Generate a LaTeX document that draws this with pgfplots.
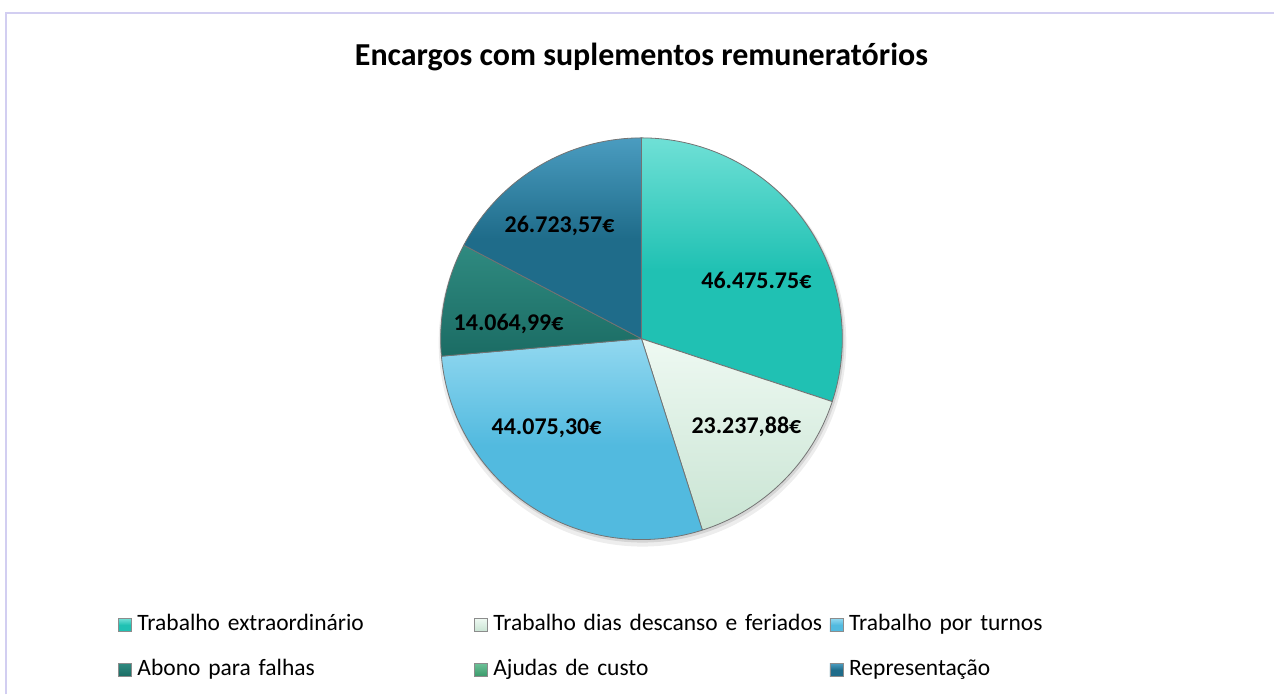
\documentclass[border=0pt]{standalone}
\usepackage{fontspec}
\setmainfont{Carlito}
\usepackage{pgfplots}
\usepackage{pgfplotstable}
\pgfplotsset{compat=1.18}

\definecolor{cA}{HTML}{20C1B3}\definecolor{cAl}{HTML}{6FE0D6}
\definecolor{cB}{HTML}{C9E4D3}\definecolor{cBl}{HTML}{EEF9F2}
\definecolor{cC}{HTML}{52BADF}\definecolor{cCl}{HTML}{92D8F0}
\definecolor{cD}{HTML}{1B6C64}\definecolor{cDl}{HTML}{2F8A80}
\definecolor{cE}{HTML}{3A9A6A}\definecolor{cEl}{HTML}{6CC097}
\definecolor{cF}{HTML}{1F6C8A}\definecolor{cFl}{HTML}{4A9CC0}
\definecolor{frame}{HTML}{D2CEF1}

\tikzset{
  pie0/.style={top color=cAl, bottom color=cA, middle color=cA},
  pie1/.style={top color=cBl, bottom color=cB},
  pie2/.style={top color=cCl, bottom color=cC, middle color=cC},
  pie3/.style={top color=cDl, bottom color=cD},
  pie4/.style={top color=cEl, bottom color=cE},
  pie5/.style={top color=cFl, bottom color=cF, middle color=cF},
}

% values of the slices (clockwise from 12 o'clock)
\pgfplotstableread[col sep=comma]{
value
46475.75
23237.88
44075.30
14064.99
0
26723.57
}\piedata

\def\total{0}
\pgfplotsforeachungrouped \i in {0,...,5}{%
  \pgfplotstablegetelem{\i}{value}\of\piedata
  \xdef\total{\fpeval{\total+\pgfplotsretval}}%
}
\def\cum{0}
\pgfplotsforeachungrouped \i in {0,...,5}{%
  \pgfplotstablegetelem{\i}{value}\of\piedata
  \expandafter\xdef\csname sa\i\endcsname{\fpeval{round(90-360*\cum/\total,4)}}%
  \xdef\cum{\fpeval{\cum+\pgfplotsretval}}%
  \expandafter\xdef\csname ea\i\endcsname{\fpeval{round(90-360*\cum/\total,4)}}%
  \expandafter\xdef\csname va\i\endcsname{\pgfplotsretval}%
}

\begin{document}
\begin{tikzpicture}
\begin{axis}[
  scale only axis, width=637.5pt, height=347.5pt,
  xmin=0, xmax=1275, ymin=0, ymax=695,
  hide axis, clip=false,
  legend columns=3,
  legend image code/.code={\path[#1, draw=black!45, line width=0.3pt] (0pt,-3.25pt) rectangle (6.5pt,3.25pt);},
  legend style={draw=none, fill=none, inner sep=0pt, outer sep=0pt,
    at={(axis cs:118,81)}, anchor=north west,
    font=\fontsize{11.75}{14}\selectfont, row sep=11pt,
    nodes={inner sep=0pt, outer sep=0pt, text width=190pt, align=left,
      text height=8.5pt, text depth=3pt, anchor=center,
      execute at begin node={\hyphenpenalty=10000\exhyphenpenalty=10000}},
    /tikz/every odd column/.style={column sep=3pt},
    /tikz/every even column/.style={column sep=-21.75pt}},
]
\path (axis cs:0,0) rectangle (axis cs:1275,695);
\draw[frame, line width=1pt] (axis cs:6,0) -- (axis cs:6,682) -- (axis cs:1275,682);

% soft shadow
\fill[black, opacity=0.07] (axis cs:643,352) circle[radius=204];
\fill[black, opacity=0.10] (axis cs:643,354) circle[radius=202];

\pgfplotsforeachungrouped \i in {0,...,5}{%
  \ifnum\fpeval{\csname va\i\endcsname>0}=1
  \edef\temp{\noexpand\path[pie\i, draw=black!55, line width=0.4pt, line join=round]
    (axis cs:642,356) -- (axis cs:{642+201*cos(\csname sa\i\endcsname)},{356+201*sin(\csname sa\i\endcsname)})
    arc[start angle=\csname sa\i\endcsname, end angle=\csname ea\i\endcsname, radius=201] -- cycle;}%
  \temp
  \fi
}

\node[font=\fontsize{16}{19}\selectfont\bfseries] at (axis cs:642,638) {Encargos com suplementos remuneratórios};

\begin{scope}[every node/.style={font=\fontsize{12}{14}\selectfont\bfseries}]
\node at (axis cs:757,414) {46.475.75€};
\node at (axis cs:747,268) {23.237,88€};
\node at (axis cs:547,266) {44.075,30€};
\node at (axis cs:509,371) {14.064,99€};
\node at (axis cs:560,469) {26.723,57€};
\end{scope}

\addlegendimage{pie0}\addlegendentry{Trabalho extraordinário}
\addlegendimage{pie1}\addlegendentry{Trabalho dias descanso e feriados}
\addlegendimage{pie2}\addlegendentry{Trabalho por turnos}
\addlegendimage{pie3}\addlegendentry{Abono para falhas}
\addlegendimage{pie4}\addlegendentry{Ajudas de custo}
\addlegendimage{pie5}\addlegendentry{Representação}
\end{axis}
\end{tikzpicture}
\end{document}
